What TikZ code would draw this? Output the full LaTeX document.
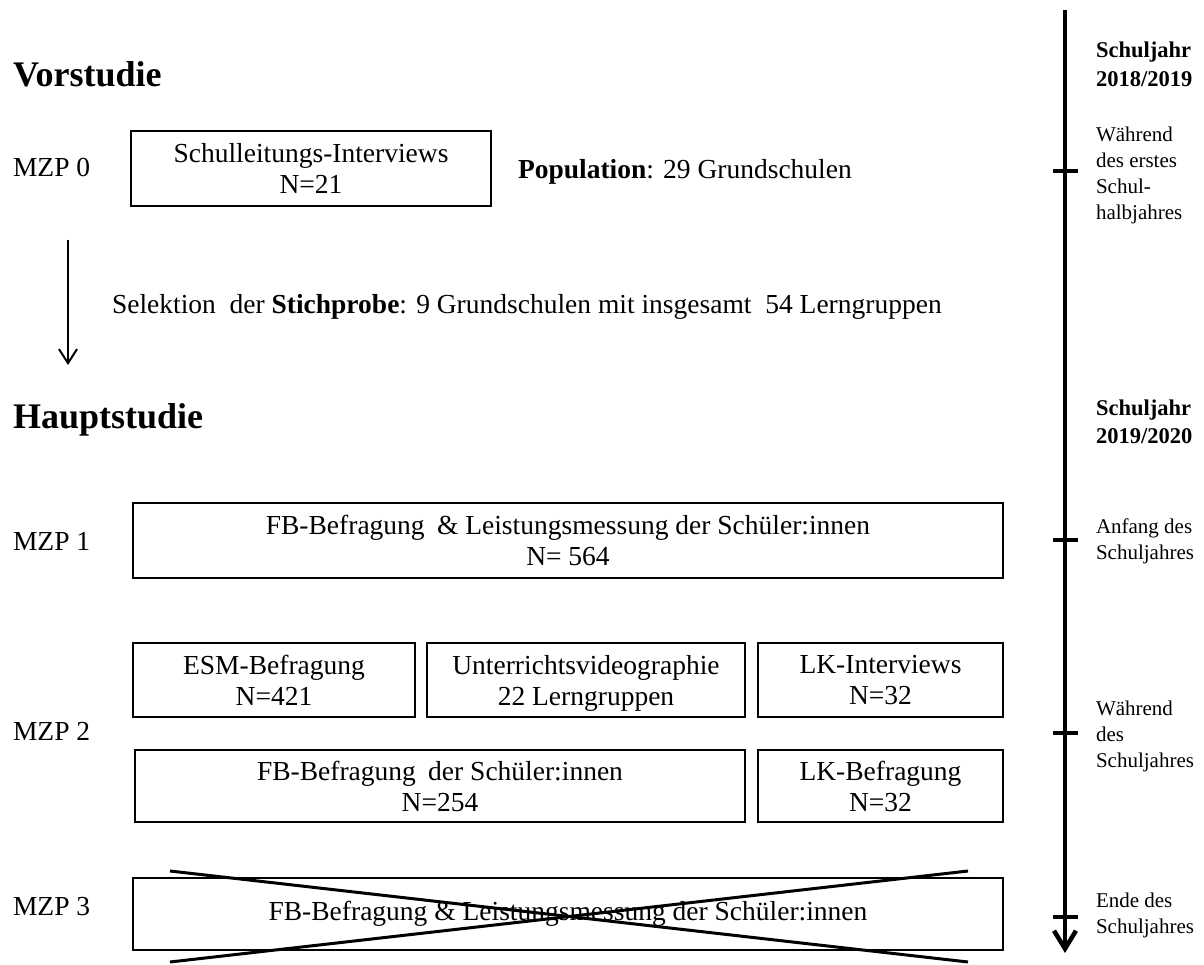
\documentclass[tikz,border=0pt]{standalone}
\usepackage{fontspec}
\setmainfont{Liberation Serif}
\usetikzlibrary{arrows.meta}
\begin{document}
\begin{tikzpicture}[x=1pt,y=-1pt,
  every node/.style={inner sep=0pt, outer sep=0pt},
  body/.style={font=\fontsize{27.5}{31}\selectfont},
  head/.style={font=\fontsize{36}{40}\selectfont\bfseries, anchor=base west},
  mzp/.style={body, anchor=base west},
  side/.style={font=\fontsize{21}{26}\selectfont, anchor=base west},
  year/.style={font=\fontsize{22.5}{28.5}\selectfont\bfseries, anchor=base west},
  box/.style={draw, line width=2.5pt, body, align=center, anchor=north west},
  tick/.style={line width=4pt},
  cross/.style={line width=3pt},
]
\useasboundingbox (0,0) rectangle (1204,965);

% ---------- Vorstudie ----------
\node[head] (vor) at (13,87) {Vorstudie};
\node[mzp] (m0) at (13,177) {MZP 0};
\node[box, minimum width=360, minimum height=75] (b0) at (131,131)
  {Schulleitungs-Interviews\\N=21};
\node[mzp] (pop) at (518,179) {\textbf{Population}: 29 Grundschulen};

\coordinate (s0) at (68,240);
\coordinate (s1) at (68,365);
\draw[line width=2pt, -{Straight Barb[length=14pt,width=18pt]}] (s0) -- (s1);
\node[mzp] (sel) at (112,314)
  {Selektion\hspace{0.25em} der \textbf{Stichprobe}: 9 Grundschulen mit insgesamt\hspace{0.25em} 54 Lerngruppen};

% ---------- Hauptstudie ----------
\node[head] (haupt) at (13,428) {Hauptstudie};

\node[mzp] (m1) at (13,550) {MZP 1};
\node[box, minimum width=870, minimum height=75] (b1) at (133,503)
  {FB-Befragung\hspace{0.2em} \& Leistungsmessung der Schüler:innen\\N= 564};

\node[mzp] (m2) at (13,740) {MZP 2};
\node[box, minimum width=282, minimum height=74] (esm) at (133,643)
  {ESM-Befragung\\N=421};
\node[box, minimum width=318, minimum height=74] (vid) at (427,643)
  {Unterrichtsvideographie\\\raisebox{0pt}[\height][0pt]{22 Lerngruppen}};
\node[box, minimum width=245, minimum height=74] (lki) at (758,643)
  {LK-Interviews\\N=32};
\node[box, minimum width=610, minimum height=72] (fb2) at (135,750)
  {FB-Befragung\hspace{0.2em} der Schüler:innen\\N=254};
\node[box, minimum width=245, minimum height=72] (lkb) at (758,750)
  {LK-Befragung\\N=32};

\node[mzp] (m3) at (13,915) {MZP 3};
\node[box, minimum width=870, minimum height=72] (b3) at (133,878)
  {FB-Befragung \& Leistungsmessung der Schüler:innen};
% struck-out measurement point
\coordinate (x1) at (170,871);
\coordinate (x2) at (968,962);
\coordinate (x3) at (170,962);
\coordinate (x4) at (968,871);
\draw[cross] (x1) -- (x2);
\draw[cross] (x3) -- (x4);

% ---------- time axis ----------
\coordinate (ttop) at (1065,10);
\coordinate (tend) at (1065,953);
\draw[line width=4.5pt, -{Straight Barb[length=18pt,width=22pt]}] (ttop) -- (tend);
\coordinate (t0) at (1065,171);
\coordinate (t1) at (1065,540);
\coordinate (t2) at (1065,733);
\coordinate (t3) at (1065,917);
\foreach \t in {t0,t1,t2,t3}
  \draw[tick] ([xshift=-12pt]\t) -- ([xshift=13pt]\t);

\node[year] (sj1) at (1096,58) {\vtop{\hbox{Schuljahr}\hbox{2018/2019}}};
\node[side] (w1) at (1096,142) {\vtop{\hbox{Während}\hbox{des erstes}\hbox{Schul-}\hbox{halbjahres}}};
\node[year] (sj2) at (1096,415) {\vtop{\hbox{Schuljahr}\hbox{2019/2020}}};
\node[side] (anf) at (1096,533) {\vtop{\hbox{Anfang des}\hbox{Schuljahres}}};
\node[side] (w2) at (1096,715) {\vtop{\hbox{Während}\hbox{des}\hbox{Schuljahres}}};
\node[side] (ende) at (1096,907) {\vtop{\hbox{Ende des}\hbox{Schuljahres}}};
\end{tikzpicture}
\end{document}
